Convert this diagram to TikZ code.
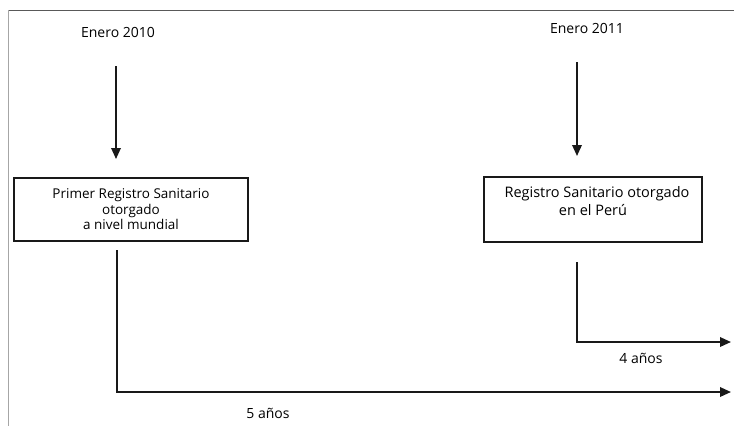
\documentclass[tikz,border=0pt]{standalone}
\usepackage{fontspec}
\setmainfont{Open Sans}
\usetikzlibrary{arrows.meta}
\begin{document}
\begin{tikzpicture}[x=1pt,y=-1pt,
  lbl/.style={inner sep=0pt, font=\fontsize{14}{15}\selectfont},
  box/.style={draw=black!90, line width=1.3pt, inner sep=0pt, align=center, font=\fontsize{13.5}{15.5}\selectfont},
  arr/.style={line width=1.8pt, black!90, -{Triangle[length=11pt,width=9.5pt]}},
  frame/.style={line width=1pt}]
\useasboundingbox (0,0) rectangle (734,426);
% frame lines
\draw[frame, black!65] (8,10) -- (734,10);
\draw[frame, black!35] (8,10) -- (8,426);
% labels
\node[lbl] (e2010) at (118,32) {Enero 2010};
\node[lbl] (e2011) at (587,28) {Enero 2011};
% boxes
\node[box, minimum width=234pt, minimum height=63pt] (b1) at (131,209.5)
  {Primer Registro Sanitario\\otorgado\\a nivel mundial};
\node[box, minimum width=218pt, minimum height=65pt, font=\fontsize{14.5}{18}\selectfont] (b2) at (593,209.5)
  {\hspace*{8pt}Registro Sanitario otorgado\\en el Perú\\\mbox{}};
% arrows down
\coordinate (a1s) at (116,66);
\coordinate (a1e) at (116,159);
\draw[arr] (a1s) -- (a1e);
\coordinate (a2s) at (577,62);
\coordinate (a2e) at (577,156);
\draw[arr] (a2s) -- (a2e);
% timelines
\coordinate (l1s) at (117,250);
\coordinate (l1c) at (117,392);
\coordinate (l1e) at (731,392);
\draw[arr] (l1s) -- (l1c) -- (l1e);
\coordinate (l2s) at (577,262);
\coordinate (l2c) at (577,342);
\coordinate (l2e) at (731,342);
\draw[arr] (l2s) -- (l2c) -- (l2e);
% durations
\node[lbl] (y5) at (268,413) {5 años};
\node[lbl] (y4) at (641,358) {4 años};
\end{tikzpicture}
\end{document}
